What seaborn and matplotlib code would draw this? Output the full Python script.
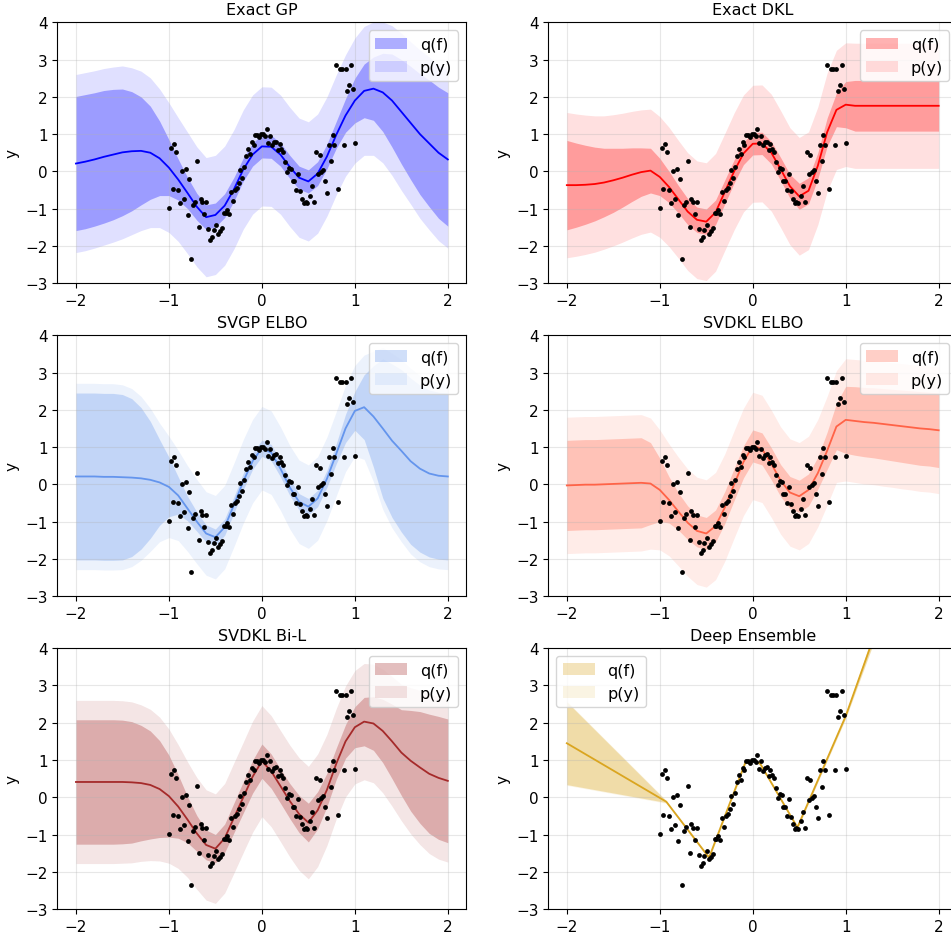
import numpy as np
import seaborn as sns
import matplotlib
matplotlib.use("Agg")
import matplotlib.pyplot as plt

# training points
X_DATA = [-1.00, -0.98, -0.96, -0.94, -0.92, -0.90, -0.88, -0.86, -0.84, -0.82,
          -0.80, -0.78, -0.76, -0.74, -0.72, -0.70, -0.68, -0.66, -0.64, -0.62,
          -0.60, -0.58, -0.56, -0.54, -0.52, -0.49, -0.47, -0.45, -0.43, -0.41,
          -0.39, -0.37, -0.35, -0.33, -0.31, -0.29, -0.27, -0.25, -0.23, -0.21,
          -0.19, -0.17, -0.15, -0.13, -0.11, -0.09, -0.07, -0.05, -0.03, -0.01,
          0.01, 0.03, 0.05, 0.07, 0.09, 0.11, 0.13, 0.15, 0.17, 0.19,
          0.21, 0.23, 0.25, 0.27, 0.29, 0.31, 0.33, 0.35, 0.37, 0.39,
          0.41, 0.43, 0.45, 0.47, 0.49, 0.52, 0.54, 0.56, 0.58, 0.60,
          0.62, 0.64, 0.66, 0.68, 0.70, 0.72, 0.74, 0.76, 0.78, 0.80,
          0.82, 0.84, 0.86, 0.88, 0.90, 0.92, 0.94, 0.96, 0.98, 1.00]
Y_DATA = [-0.99, 0.62, -0.48, 0.73, 0.52, -0.50, -0.85, 0.00, -0.74, 0.06,
          -1.18, -0.20, -2.36, -0.91, -0.81, 0.29, -1.50, -0.73, -0.82, -1.15,
          -0.82, -1.54, -1.84, -1.77, -1.57, -1.45, -1.67, -1.61, -1.51, -1.11,
          -1.13, -1.05, -1.15, -0.55, -0.79, -0.50, -0.44, -0.32, 0.04, -0.19,
          0.12, 0.41, 0.60, 0.46, 0.78, 0.72, 0.98, 0.98, 0.93, 1.00,
          0.99, 0.94, 1.14, 0.76, 0.96, 0.71, 0.78, 0.80, 0.56, 0.73,
          0.60, 0.52, 0.26, -0.01, 0.09, 0.06, -0.27, -0.27, -0.50, -0.06,
          -0.53, -0.73, -0.86, -0.83, -0.86, -0.65, -0.39, -0.82, 0.51, -0.07,
          0.45, -0.03, 0.03, -0.25, -0.57, 0.72, 0.27, 0.98, 0.72, 2.86,
          -0.48, 2.75, 2.75, 0.72, 2.75, 2.15, 2.32, 2.86, 2.22, 0.77]

# prediction grid
X_GRID = [-2.0, -1.9, -1.8, -1.7, -1.6, -1.5, -1.4, -1.3, -1.2, -1.1,
          -1.0, -0.9, -0.8, -0.7, -0.6, -0.5, -0.4, -0.3, -0.2, -0.1,
          0.0, 0.1, 0.2, 0.3, 0.4, 0.5, 0.6, 0.7, 0.8, 0.9,
          1.0, 1.1, 1.2, 1.3, 1.4, 1.5, 1.6, 1.7, 1.8, 1.9, 2.0]

# Exact GP: mean, half width of q(f) band, half width of p(y) band
gp_mean = [0.21, 0.26, 0.32, 0.39, 0.45, 0.51, 0.54, 0.55, 0.50, 0.35,
           0.10, -0.22, -0.58, -0.95, -1.23, -1.17, -0.92, -0.48, 0.05, 0.45,
           0.67, 0.66, 0.45, 0.12, -0.17, -0.27, -0.06, 0.40, 0.98, 1.50,
           1.90, 2.16, 2.22, 2.12, 1.90, 1.60, 1.30, 1.00, 0.75, 0.50, 0.32]
gp_q = [1.80, 1.80, 1.79, 1.78, 1.75, 1.70, 1.60, 1.45, 1.25, 1.00,
        0.75, 0.55, 0.42, 0.36, 0.33, 0.32, 0.32, 0.32, 0.31, 0.31,
        0.31, 0.31, 0.31, 0.31, 0.31, 0.31, 0.32, 0.33, 0.36, 0.45,
        0.60, 0.72, 0.85, 1.05, 1.25, 1.40, 1.52, 1.62, 1.70, 1.76, 1.79]
gp_p = [2.39, 2.39, 2.38, 2.37, 2.35, 2.32, 2.24, 2.14, 2.01, 1.86,
        1.74, 1.66, 1.63, 1.61, 1.60, 1.60, 1.60, 1.60, 1.60, 1.60,
        1.60, 1.60, 1.60, 1.60, 1.60, 1.60, 1.60, 1.60, 1.61, 1.63,
        1.68, 1.73, 1.79, 1.89, 2.01, 2.11, 2.18, 2.26, 2.32, 2.36, 2.38]

# Exact DKL
dkl_mean = [-0.37, -0.37, -0.36, -0.34, -0.30, -0.24, -0.17, -0.09, -0.02, 0.02,
            -0.15, -0.42, -0.75, -1.08, -1.30, -1.35, -1.10, -0.55, 0.00, 0.48,
            0.74, 0.75, 0.50, 0.06, -0.40, -0.67, -0.52, 0.15, 1.05, 1.65,
            1.79, 1.76, 1.76, 1.76, 1.76, 1.76, 1.76, 1.76, 1.76, 1.76, 1.76]
dkl_q = [1.20, 1.13, 1.06, 0.99, 0.92, 0.86, 0.79, 0.72, 0.65, 0.60,
         0.50, 0.42, 0.37, 0.35, 0.34, 0.34, 0.33, 0.32, 0.31, 0.30,
         0.30, 0.30, 0.30, 0.31, 0.32, 0.35, 0.35, 0.35, 0.38, 0.45,
         0.62, 0.68, 0.68, 0.68, 0.68, 0.68, 0.68, 0.68, 0.68, 0.68, 0.68]
dkl_p = [1.95, 1.91, 1.87, 1.83, 1.79, 1.76, 1.73, 1.70, 1.67, 1.65,
         1.62, 1.60, 1.58, 1.58, 1.58, 1.58, 1.58, 1.57, 1.57, 1.57,
         1.57, 1.57, 1.57, 1.57, 1.57, 1.58, 1.58, 1.58, 1.59, 1.60,
         1.66, 1.68, 1.68, 1.68, 1.68, 1.68, 1.68, 1.68, 1.68, 1.68, 1.68]

# SVGP ELBO
svgp_mean = [0.21, 0.21, 0.21, 0.20, 0.20, 0.19, 0.18, 0.16, 0.12, 0.05,
             -0.07, -0.30, -0.65, -1.00, -1.32, -1.42, -1.15, -0.55, 0.08, 0.62,
             0.97, 0.85, 0.42, -0.08, -0.47, -0.60, -0.38, 0.15, 0.82, 1.50,
             1.97, 2.07, 1.82, 1.50, 1.17, 0.90, 0.62, 0.42, 0.29, 0.23, 0.21]
svgp_q = [2.24, 2.24, 2.24, 2.24, 2.24, 2.22, 2.12, 1.90, 1.57, 1.15,
          0.80, 0.50, 0.33, 0.26, 0.23, 0.22, 0.22, 0.22, 0.22, 0.22,
          0.22, 0.22, 0.22, 0.22, 0.22, 0.22, 0.22, 0.23, 0.27, 0.38,
          0.52, 0.87, 1.36, 1.87, 2.06, 2.18, 2.23, 2.24, 2.24, 2.24, 2.24]
svgp_p = [2.50, 2.50, 2.50, 2.50, 2.50, 2.48, 2.39, 2.20, 1.92, 1.59,
          1.36, 1.21, 1.15, 1.13, 1.12, 1.12, 1.12, 1.12, 1.12, 1.12,
          1.12, 1.12, 1.12, 1.12, 1.12, 1.12, 1.12, 1.12, 1.13, 1.16,
          1.22, 1.40, 1.75, 2.17, 2.34, 2.44, 2.49, 2.50, 2.50, 2.50, 2.50]

# SVDKL ELBO
svdkl_mean = [-0.03, -0.02, -0.01, -0.01, 0.00, 0.01, 0.02, 0.03, 0.04, 0.02,
              -0.15, -0.42, -0.73, -1.03, -1.25, -1.32, -1.12, -0.62, 0.00, 0.60,
              1.03, 0.95, 0.55, 0.10, -0.22, -0.32, -0.15, 0.30, 0.90, 1.55,
              1.73, 1.70, 1.67, 1.65, 1.62, 1.59, 1.56, 1.53, 1.50, 1.48, 1.45]
svdkl_q = [1.21, 1.21, 1.21, 1.21, 1.21, 1.21, 1.21, 1.21, 1.21, 1.10,
           0.85, 0.62, 0.50, 0.45, 0.43, 0.43, 0.43, 0.43, 0.43, 0.43,
           0.43, 0.43, 0.43, 0.43, 0.43, 0.43, 0.43, 0.43, 0.50, 0.62,
           0.90, 0.92, 0.93, 0.94, 0.95, 0.96, 0.97, 0.98, 0.99, 0.99, 1.00]
svdkl_p = [1.83, 1.83, 1.83, 1.83, 1.83, 1.83, 1.83, 1.83, 1.83, 1.76,
           1.61, 1.50, 1.46, 1.44, 1.44, 1.44, 1.44, 1.44, 1.44, 1.44,
           1.44, 1.44, 1.44, 1.44, 1.44, 1.44, 1.44, 1.44, 1.46, 1.50,
           1.64, 1.65, 1.66, 1.66, 1.67, 1.67, 1.68, 1.68, 1.69, 1.69, 1.70]

# SVDKL Bi-L
bil_mean = [0.41, 0.41, 0.41, 0.41, 0.41, 0.41, 0.40, 0.38, 0.33, 0.22,
            0.03, -0.25, -0.60, -0.97, -1.28, -1.38, -1.10, -0.55, 0.00, 0.55,
            0.97, 0.70, 0.30, -0.10, -0.45, -0.68, -0.35, 0.20, 0.90, 1.50,
            1.88, 2.03, 1.98, 1.78, 1.50, 1.20, 0.98, 0.80, 0.63, 0.52, 0.44]
bil_q = [1.67, 1.67, 1.67, 1.67, 1.67, 1.66, 1.63, 1.55, 1.45, 1.30,
         1.10, 0.85, 0.62, 0.48, 0.40, 0.38, 0.38, 0.40, 0.42, 0.44,
         0.46, 0.46, 0.46, 0.47, 0.50, 0.52, 0.50, 0.45, 0.42, 0.45,
         0.55, 0.65, 0.72, 0.85, 1.00, 1.15, 1.35, 1.50, 1.60, 1.65, 1.66]
bil_p = [2.19, 2.19, 2.19, 2.19, 2.19, 2.18, 2.16, 2.10, 2.03, 1.93,
         1.80, 1.66, 1.55, 1.50, 1.48, 1.47, 1.47, 1.48, 1.48, 1.49,
         1.49, 1.49, 1.49, 1.50, 1.51, 1.51, 1.51, 1.49, 1.48, 1.49,
         1.52, 1.56, 1.59, 1.66, 1.74, 1.83, 1.96, 2.07, 2.14, 2.18, 2.18]

# Deep Ensemble (piecewise linear, own grid)
de_x = [-2.0, -0.93, -0.47, -0.08, -0.03, 0.03, 0.08, 0.48, 1.0, 2.0]
de_mean = [1.45, -0.12, -1.62, 0.93, 0.98, 0.98, 0.90, -0.81, 2.18, 9.20]
de_q = [1.11, 0.02, 0.03, 0.03, 0.03, 0.03, 0.03, 0.03, 0.05, 0.32]
de_p = [1.13, 0.04, 0.05, 0.05, 0.05, 0.05, 0.05, 0.05, 0.07, 0.34]

panels = [
    ("Exact GP", "blue", X_GRID, gp_mean, gp_q, gp_p, "upper right"),
    ("Exact DKL", "red", X_GRID, dkl_mean, dkl_q, dkl_p, "upper right"),
    ("SVGP ELBO", "cornflowerblue", X_GRID, svgp_mean, svgp_q, svgp_p, "upper right"),
    ("SVDKL ELBO", "tomato", X_GRID, svdkl_mean, svdkl_q, svdkl_p, "upper right"),
    ("SVDKL Bi-L", "brown", X_GRID, bil_mean, bil_q, bil_p, "upper right"),
    ("Deep Ensemble", "goldenrod", de_x, de_mean, de_q, de_p, "upper left"),
]


def draw_panel(ax, title, color, xs, mean, qw, pw, loc):
    xs = np.array(xs)
    mean = np.array(mean)
    qw = np.array(qw)
    pw = np.array(pw)
    hp = ax.fill_between(xs, mean - pw, mean + pw, color=color, alpha=0.12, lw=0)
    hq = ax.fill_between(xs, mean - qw, mean + qw, color=color, alpha=0.3, lw=0)
    sns.lineplot(x=xs, y=mean, color=color, lw=1.3, ax=ax)
    sns.scatterplot(x=X_DATA, y=Y_DATA, color="black", s=12, linewidth=0, ax=ax, zorder=3)
    ax.set_xlim(-2.2, 2.2)
    ax.set_ylim(-3, 4)
    ax.set_xticks([-2, -1, 0, 1, 2])
    ax.set_title(title, fontsize=11.5)
    ax.set_ylabel("y", fontsize=11)
    ax.set_xlabel("")
    ax.tick_params(labelsize=11)
    ax.grid(True, color="#b0b0b0", alpha=0.3)
    ax.legend([hq, hp], ["q(f)", "p(y)"], loc=loc, fontsize=11.5)


fig, axes = plt.subplots(3, 2, figsize=(9.51, 9.37), dpi=100)
fig.subplots_adjust(left=0.0603, right=1.0066, bottom=0.0288, top=0.9751,
                    wspace=0.2, hspace=0.2)
for ax, p in zip(axes.flat, panels):
    draw_panel(ax, *p)

fig.savefig("out.png", dpi=100)
